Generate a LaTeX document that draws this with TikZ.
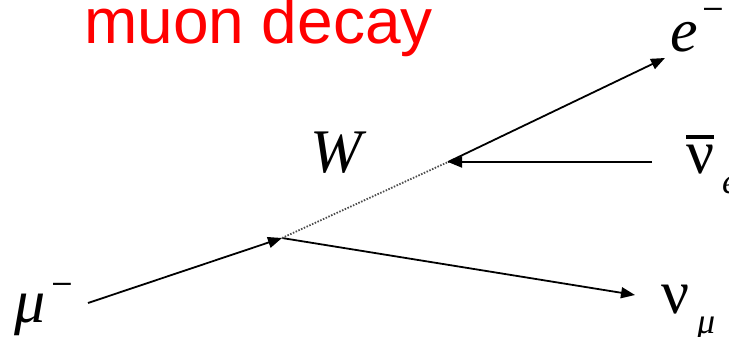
\documentclass[tikz,border=0pt]{standalone}
\usepackage{fontspec}
\setmainfont{Liberation Serif}
\newfontfamily\titlefont{Liberation Sans}
\usetikzlibrary{arrows.meta}
\definecolor{titlered}{RGB}{255,0,0}
\tikzset{
  fermion/.style={line width=1.8pt, draw=black, -{Triangle[length=14pt,width=11pt]}},
  boson/.style={line width=1.8pt, draw=black!70, dash pattern=on 1.5pt off 1.5pt},
  lbl/.style={inner sep=0pt, outer sep=0pt, anchor=base west, font=\fontsize{62}{62}\selectfont},
  supm/.style={inner sep=0pt, outer sep=0pt, anchor=base west, font=\titlefont\fontsize{32}{32}\selectfont},
}
\newcommand{\subsz}{\fontsize{36}{36}\selectfont}
\begin{document}
\begin{tikzpicture}[x=1pt,y=-1pt]
\useasboundingbox (0,0) rectangle (729,337);
% title
\node[inner sep=0pt, anchor=base west, text=titlered, font=\titlefont\fontsize{64}{64}\selectfont] (title) at (84,44) {muon decay};
% vertices
\coordinate (mustart) at (88,303);
\coordinate (v1) at (282,238);
\coordinate (v2) at (448,162);
\coordinate (etip) at (665,58);
\coordinate (nubarstart) at (652,162);
\coordinate (numutip) at (635,295);
% lines
\draw[fermion] (mustart) -- (v1);
\draw[fermion] (v1) -- (numutip);
\draw[boson] (v1) -- (v2);
\draw[fermion] (v2) -- (etip);
\draw[fermion] (nubarstart) -- (v2);
% labels
\node[lbl] (elab) at (670,52) {\itshape e};
\node[supm] (eminus) at (704,18) {–};
\node[lbl] (mulab) at (15,322) {\itshape μ};
\node[supm] (muminus) at (53,292) {–};
\node[lbl] (wlab) at (310,172) {\itshape W};
\node[lbl] (numulab) at (661,313) {ν};
\node[inner sep=0pt, anchor=base west, font=\subsz] (numusub) at (697,333) {\itshape μ};
\node[lbl] (nubarlab) at (686,173) {\vbox{\hrule height 3.5pt\kern 6pt\hbox{ν}}};
\node[inner sep=0pt, anchor=base west, font=\subsz] (nubarsub) at (722,193) {\itshape e};
\end{tikzpicture}
\end{document}
